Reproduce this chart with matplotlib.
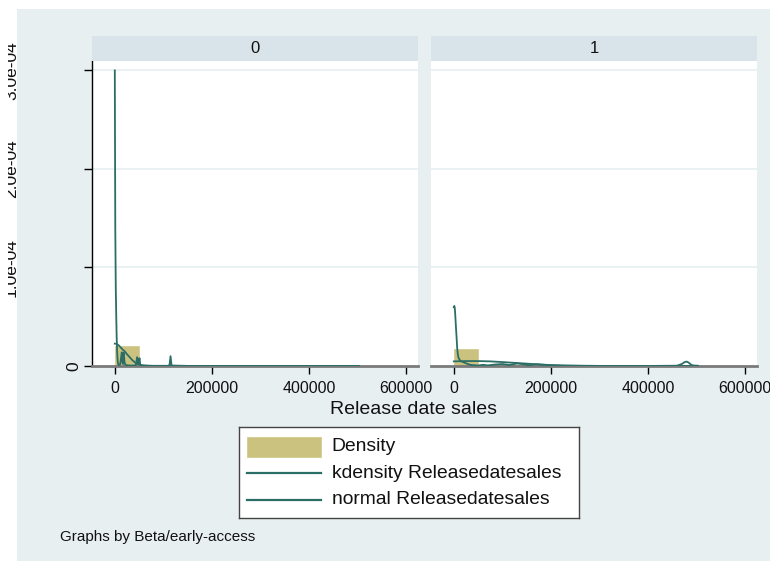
"""Histogram + kdensity + normal overlay of release-date sales, by beta flag."""

import matplotlib

matplotlib.use("Agg")
import matplotlib.pyplot as plt
import numpy as np
from matplotlib.patches import Rectangle
from matplotlib.transforms import Bbox, blended_transform_factory

plt.rcParams["font.family"] = ["Liberation Sans", "DejaVu Sans"]

# ---------- data (density values in units of 1e-5) ---------------------------

PANELS = ["0", "1"]
BIN_WIDTH = 50300
N_BINS = 10

hist0 = [2.0, 0.015, 0.01, 0.005, 0, 0, 0, 0, 0, 0.002]
hist1 = [1.70, 0.06, 0.10, 0.05, 0.02, 0, 0, 0, 0, 0.06]

kde0_x = [0, 1000, 2000, 3000, 3800, 4800, 5800, 6800, 8000, 11000, 12800,
          14400, 16000, 17200, 18500, 20000, 22000, 30000, 40000, 43500,
          46000, 47800, 49000, 50900, 52500, 55000, 80000, 110000, 112800,
          114900, 117000, 150000, 250000, 350000, 450000, 503000]
kde0_y = [30.0, 14.0, 8.0, 5.0, 3.0, 1.5, 0.6, 0.2, 0.1, 0.15, 0.8,
          1.4, 0.3, 0.2, 1.35, 0.4, 0.1, 0.05, 0.05, 0.1,
          0.9, 0.2, 0.3, 0.8, 0.15, 0.05, 0.02, 0.02, 0.1,
          1.0, 0.05, 0.01, 0.005, 0.005, 0.005, 0.005]

norm0_x = [0, 3000, 6200, 9000, 12400, 16000, 20600, 25000, 30900, 36000,
           41200, 46000, 51500, 57000, 62000, 70000, 90000, 150000, 300000,
           503000]
norm0_y = [2.27, 2.25, 2.17, 2.05, 1.87, 1.68, 1.48, 1.2, 0.88, 0.6,
           0.38, 0.22, 0.12, 0.07, 0.04, 0.015, 0.003, 0, 0, 0]

kde1_x = [0, 1000, 2000, 3000, 4000, 5600, 7000, 8500, 10000, 13800, 20000,
          28000, 34000, 40000, 50000, 60000, 70000, 85000, 100000, 115000,
          130000, 140000, 155000, 170000, 185000, 200000, 220000, 250000,
          300000, 400000, 460000, 470000, 476000, 480000, 484000, 490000,
          495000, 503000]
kde1_y = [5.96, 6.1, 5.9, 5.2, 4.3, 3.0, 1.8, 1.1, 0.8, 0.5, 0.38,
          0.22, 0.12, 0.08, 0.05, 0.12, 0.06, 0.15, 0.2, 0.1,
          0.25, 0.2, 0.08, 0.18, 0.12, 0.05, 0.03, 0.02,
          0.01, 0.005, 0.03, 0.2, 0.4, 0.45, 0.35, 0.1,
          0.05, 0.03]

norm1_x = [0, 25000, 50000, 75000, 100000, 125000, 150000, 175000, 200000,
           230000, 270000, 320000, 400000, 503000]
norm1_y = [0.47, 0.5, 0.5, 0.47, 0.4, 0.32, 0.24, 0.16, 0.1,
           0.05, 0.02, 0.005, 0.001, 0]

XTICKS = [0, 200000, 400000, 600000]
YTICKS = [0, 1e-4, 2e-4, 3e-4]
YTICK_LABELS = ["0", "1.0e-04", "2.0e-04", "3.0e-04"]

LEGEND_LABELS = ["Density", "kdensity Releasedatesales", "normal Releasedatesales"]

# ---------- style ------------------------------------------------------------

W, H = 770, 561
OUTER_BG = "#e8eff1"
STRIP_BG = "#d9e4ea"
GRID = "#e6eff0"
KHAKI = "#cbc27f"
TEAL = "#2b6e66"

XLIM = (-47000, 625000)
YLIM = (0, 3.096e-4)


def fx(px):
    return px / W


def fy(py):
    return 1 - py / H


fig = plt.figure(figsize=(W / 100, H / 100), dpi=100)
fig.patch.set_facecolor("white")
fig.add_artist(Rectangle((fx(17), 0), 1 - fx(17), fy(9), transform=fig.transFigure,
                         facecolor=OUTER_BG, edgecolor="none", zorder=0))

panel_px = [(92, 418), (431, 757)]
hists = [hist0, hist1]
kdes = [(kde0_x, kde0_y), (kde1_x, kde1_y)]
norms = [(norm0_x, norm0_y), (norm1_x, norm1_y)]
edges = np.arange(N_BINS) * BIN_WIDTH

for i, (x0, x1) in enumerate(panel_px):
    ax = fig.add_axes([fx(x0), fy(366), fx(x1) - fx(x0), fy(61) - fy(366)])
    ax.set_facecolor("white")
    ax.set_xlim(*XLIM)
    ax.set_ylim(*YLIM)

    ax.bar(edges, np.array(hists[i]) * 1e-5, width=BIN_WIDTH, align="edge",
           color=KHAKI, edgecolor="#d3cb90", linewidth=0.6, zorder=2)
    kx, ky = kdes[i]
    ax.plot(kx, np.array(ky) * 1e-5, color=TEAL, lw=1.3, zorder=4)
    nx, ny = norms[i]
    ax.plot(nx, np.array(ny) * 1e-5, color=TEAL, lw=1.3, zorder=4)

    for v in YTICKS[1:]:
        ax.axhline(v, color=GRID, lw=1.2, zorder=1)

    for s in ("top", "right"):
        ax.spines[s].set_visible(False)
    ax.spines["bottom"].set_color("#7a7a7a")
    ax.spines["bottom"].set_linewidth(2.0)
    ax.spines["bottom"].set_zorder(3)
    if i == 0:
        ax.spines["left"].set_color("black")
        ax.spines["left"].set_linewidth(1.0)
        ax.set_yticks(YTICKS)
        ax.tick_params(axis="y", length=6, width=1, color="black", labelleft=False)
        # rotated y labels, the long ones run off the left edge of the canvas
        tr = blended_transform_factory(fig.transFigure, ax.transData)
        clip = Bbox([[8, 0], [W, H]])
        for v, lab in zip(YTICKS, YTICK_LABELS):
            xc = fx(74) if lab == "0" else fx(11.5)
            t = ax.text(xc, v, lab, transform=tr, rotation=90, ha="center",
                        va="center", fontsize=12.5, color="#111111")
            t.set_clip_on(True)
            t.set_clip_box(clip)
    else:
        ax.spines["left"].set_visible(False)
        ax.set_yticks([])

    ax.set_xticks(XTICKS)
    ax.set_xticklabels([str(v) for v in XTICKS], fontsize=11.5, color="#111111")
    ax.tick_params(axis="x", length=6, width=1, color="black", pad=5)

    # strip with the panel value
    sax = fig.add_axes([fx(x0), fy(61), fx(x1) - fx(x0), fy(36) - fy(61)])
    sax.set_facecolor(STRIP_BG)
    sax.set_xticks([])
    sax.set_yticks([])
    for s in sax.spines.values():
        s.set_visible(False)
    sax.text(0.5, 0.5, PANELS[i], ha="center", va="center", fontsize=12,
             transform=sax.transAxes, color="#111111")

fig.text(fx(414), fy(410), "Release date sales", ha="center", va="center",
         fontsize=14, color="#111111")

# legend box, laid out in pixel units
lx0, lx1, ly0, ly1 = 239, 578.6, 427, 518
lax = fig.add_axes([fx(lx0), fy(ly1), fx(lx1) - fx(lx0), fy(ly0) - fy(ly1)])
lax.set_xlim(lx0, lx1)
lax.set_ylim(ly1, ly0)
lax.set_facecolor("white")
lax.set_xticks([])
lax.set_yticks([])
for s in lax.spines.values():
    s.set_color("#444444")
    s.set_linewidth(1.0)
rows = [447, 473, 500]
lax.add_patch(Rectangle((247.3, rows[0] - 9.8), 73.4, 19.6, facecolor=KHAKI,
                        edgecolor="#d3cb90", linewidth=0.6))
for y in rows[1:]:
    lax.plot([247.3, 320.7], [y, y], color=TEAL, lw=1.6)
for y, lab in zip(rows, LEGEND_LABELS):
    lax.text(331.7, y, lab, ha="left", va="center", fontsize=13.9, color="#111111")

fig.text(fx(60), fy(537), "Graphs by Beta/early-access", ha="left", va="center",
         fontsize=11, color="#111111")

fig.savefig("out.png", dpi=100)
